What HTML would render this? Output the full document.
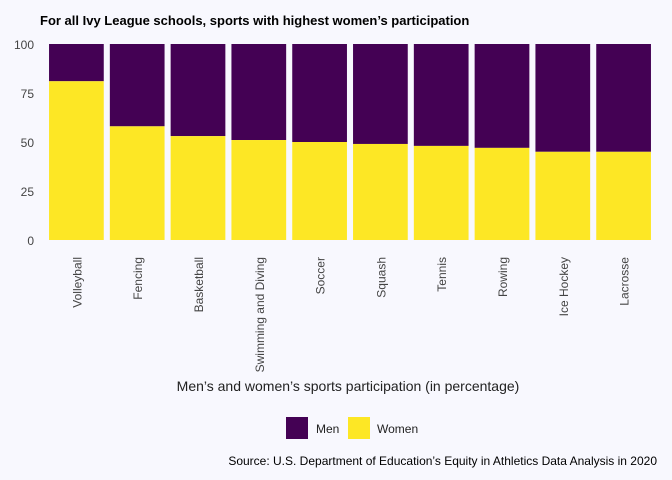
<!DOCTYPE html>
<html><head><meta charset="utf-8"><style>
body{margin:0;background:#f8f8fe;}
svg{display:block;font-family:"Liberation Sans",sans-serif;}
</style></head><body>
<svg id="chart" width="672" height="480">
<rect width="672" height="480" fill="#f8f8fe"/>
<text x="40" y="25" font-size="13" font-weight="bold" fill="#000">For all Ivy League schools, sports with highest women’s participation</text>
<g id="yaxis"></g><g id="bars"></g><g id="xaxis"></g>
<text x="348" y="391" text-anchor="middle" font-size="14" fill="#222">Men’s and women’s sports participation (in percentage)</text>
<g>
<rect x="286" y="417" width="22" height="22" fill="#440154"/>
<text x="316" y="433" font-size="12" fill="#222">Men</text>
<rect x="348" y="417" width="22" height="22" fill="#fde725"/>
<text x="377" y="433" font-size="12" fill="#222">Women</text>
</g>
<text x="657" y="465" text-anchor="end" font-size="12" fill="#000">Source: U.S. Department of Education’s Equity in Athletics Data Analysis in 2020</text>
</svg>
<script>
const categories=["Volleyball","Fencing","Basketball","Swimming and Diving","Soccer","Squash","Tennis","Rowing","Ice Hockey","Lacrosse"];
const women=[81,58,53,51,50,49,48,47,45,45];
const yTicks=[0,25,50,75,100];
const NS="http://www.w3.org/2000/svg";
const x0=46,x1=654,yTop=44,yBot=240;
const band=(x1-x0)/categories.length;
const y=v=>yBot-(v/100)*(yBot-yTop);
const xc=i=>x0+band*(i+0.5);
function mk(t,a,p){const e=document.createElementNS(NS,t);for(const k in a)e.setAttribute(k,a[k]);p.appendChild(e);return e;}
const ya=document.getElementById('yaxis'),bg=document.getElementById('bars'),xa=document.getElementById('xaxis');
yTicks.forEach(t=>{const e=mk('text',{x:34,y:y(t)+5,'text-anchor':'end','font-size':12,fill:'#444'},ya);e.textContent=t;

});
const bw=band*0.9;
categories.forEach((c,i)=>{
 const m=mk('rect',{x:xc(i)-bw/2,y:y(100),width:bw,height:y(women[i])-y(100),fill:'#440154'},bg);
 
 
 const w=mk('rect',{x:xc(i)-bw/2,y:y(women[i]),width:bw,height:yBot-y(women[i]),fill:'#fde725'},bg);
 
 
 const tx=xc(i)+5,ty=257;
 const l=mk('text',{x:tx,y:ty,'text-anchor':'end','font-size':12,fill:'#444',transform:`rotate(-90 ${tx} ${ty})`},xa);
 l.textContent=c;
 
 
});
</script>
</body></html>
